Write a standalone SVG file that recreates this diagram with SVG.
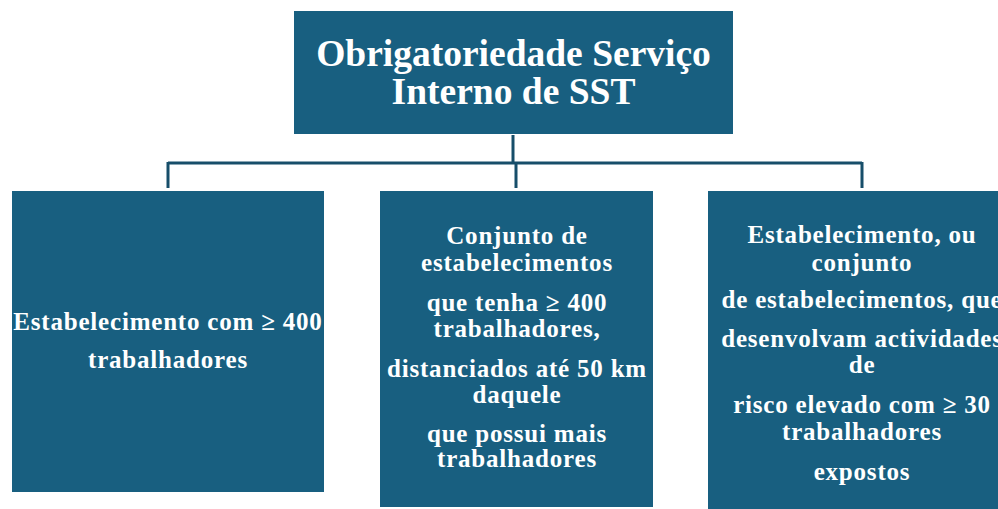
<svg xmlns="http://www.w3.org/2000/svg" width="998" height="509" viewBox="0 0 998 509">
<style>
.box{fill:#185f80}
.t{font-family:"Liberation Serif","Times New Roman",serif;font-weight:bold;fill:#ffffff;text-anchor:middle}
.title{font-size:37.5px}
.body{font-size:25px;letter-spacing:0.8px}
.conn{stroke:#174e6a;stroke-width:3;fill:none}
</style>
<rect width="998" height="509" fill="#ffffff"/>
<g id="connectors">
<path class="conn" d="M513 135V163"/>
<path class="conn" d="M168 163H862"/>
<path class="conn" d="M168 162V188M516 162V188M862 162V188"/>
</g>
<g id="root">
<rect class="box" x="294" y="11" width="439" height="123"/>
<text class="t title" x="513.5" y="66">Obrigatoriedade Serviço</text>
<text class="t title" x="513.5" y="104">Interno de SST</text>
</g>
<g id="node1">
<rect class="box" x="12" y="191" width="312" height="301"/>
<text class="t body" x="168" y="330">Estabelecimento com ≥ 400</text>
<text class="t body" x="168" y="368">trabalhadores</text>
</g>
<g id="node2">
<rect class="box" x="380" y="191" width="273" height="316"/>
<text class="t body" x="517" y="244">Conjunto de</text>
<text class="t body" x="517" y="271">estabelecimentos</text>
<text class="t body" x="517" y="311">que tenha ≥ 400</text>
<text class="t body" x="517" y="337">trabalhadores,</text>
<text class="t body" x="517" y="377">distanciados até 50 km</text>
<text class="t body" x="517" y="403">daquele</text>
<text class="t body" x="517" y="442">que possui mais</text>
<text class="t body" x="517" y="467">trabalhadores</text>
</g>
<g id="node3">
<rect class="box" x="708" y="191" width="300" height="320"/>
<text class="t body" x="862" y="243">Estabelecimento, ou</text>
<text class="t body" x="862" y="271">conjunto</text>
<text class="t body" x="862" y="308">de estabelecimentos, que</text>
<text class="t body" x="862" y="347">desenvolvam actividades</text>
<text class="t body" x="862" y="373">de</text>
<text class="t body" x="862" y="413">risco elevado com ≥ 30</text>
<text class="t body" x="862" y="440">trabalhadores</text>
<text class="t body" x="862" y="480">expostos</text>
</g>
</svg>
